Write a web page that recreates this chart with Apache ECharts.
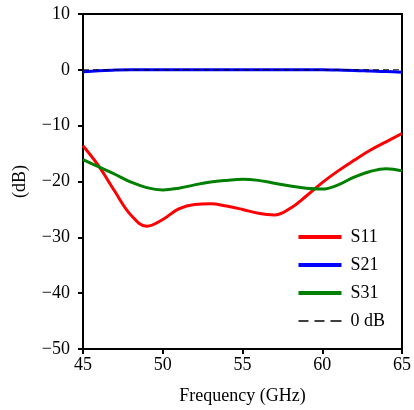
<!DOCTYPE html>
<html><head><meta charset="utf-8">
<script src="https://cdn.jsdelivr.net/npm/echarts@6/dist/echarts.min.js"></script>
<style>html,body{margin:0;padding:0;background:#fff}#c{width:414px;height:410px}</style>
</head><body><div id="c"></div>
<script>
const freq = [45,46,47,48,49,50,51,52,53,54,55,56,57,58,59,60,61,62,63,64,65];
const s11 = [-13.6,-17.3,-21.8,-26.0,-28.0,-26.8,-24.9,-24.1,-24.0,-24.4,-25.0,-25.7,-26.0,-24.8,-22.6,-20.2,-18.1,-16.2,-14.4,-12.9,-11.4];
const s21 = [-0.35,-0.15,-0.05,0,0,0,0,0,0,0,0,0,0,0,0,0,-0.05,-0.1,-0.2,-0.3,-0.45];
const s31 = [-16.1,-17.4,-18.7,-20.1,-21.1,-21.5,-21.2,-20.6,-20.1,-19.8,-19.6,-19.8,-20.3,-20.8,-21.2,-21.35,-20.6,-19.2,-18.2,-17.7,-18.1];
const zeroLine = [[45,0],[65,0]];
const xTicks = [45,50,55,60,65];
const yTicks = [-50,-40,-30,-20,-10,0,10];

const pair = (a) => freq.map((f,i)=>[f,a[i]]);
const font = 'Liberation Serif';
const fmt = v => v < 0 ? '\u2212' + Math.abs(v) : String(v);

const chart = echarts.init(document.getElementById('c'));
chart.setOption({
  animation:false,
  grid:{left:83,right:9,top:14,bottom:59,show:true,borderColor:'#000',borderWidth:2,backgroundColor:'transparent'},
  xAxis:{type:'value',min:xTicks[0],max:xTicks[xTicks.length-1],interval:5,
    name:'Frequency (GHz)',nameLocation:'middle',nameGap:38,
    nameTextStyle:{fontFamily:font,fontSize:18,color:'#000'},
    axisLine:{show:true,onZero:false,lineStyle:{color:'#000',width:2}},
    axisTick:{show:true,inside:false,length:5,lineStyle:{color:'#000',width:2}},
    axisLabel:{fontFamily:font,fontSize:18,color:'#000',margin:7},
    splitLine:{show:false}},
  yAxis:{type:'value',min:yTicks[0],max:yTicks[yTicks.length-1],interval:10,
    name:'(dB)',nameLocation:'middle',nameGap:54,nameRotate:90,
    nameTextStyle:{fontFamily:font,fontSize:18,color:'#000'},
    axisLine:{show:true,onZero:false,lineStyle:{color:'#000',width:2}},
    axisTick:{show:true,inside:false,length:5,lineStyle:{color:'#000',width:2}},
    axisLabel:{fontFamily:font,fontSize:18,color:'#000',margin:13,formatter:fmt},
    splitLine:{show:false}},
  legend:{right:24,top:223,orient:'vertical',itemWidth:43,itemHeight:4,itemGap:10,
    textStyle:{fontFamily:font,fontSize:18,color:'#000',padding:[0,0,0,4]},
    icon:'rect',
    data:[{name:'S11',icon:'rect'},{name:'S21',icon:'rect'},{name:'S31',icon:'rect'},
      {name:'0 dB',icon:'path://M0,0 L10,0 L10,1.6 L0,1.6 Z M16,0 L26,0 L26,1.6 L16,1.6 Z M32,0 L43,0 L43,1.6 L32,1.6 Z',itemStyle:{color:'#000'}}]},
  series:[
    {name:'S11',type:'line',data:pair(s11),smooth:0.4,showSymbol:false,lineStyle:{color:'#ff0000',width:3},itemStyle:{color:'#ff0000'}},
    {name:'S21',type:'line',data:pair(s21),smooth:0.4,showSymbol:false,lineStyle:{color:'#0000ff',width:3},itemStyle:{color:'#0000ff'}},
    {name:'S31',type:'line',data:pair(s31),smooth:0.4,showSymbol:false,lineStyle:{color:'#008000',width:3},itemStyle:{color:'#008000'}},
    {name:'0 dB',type:'line',data:zeroLine,showSymbol:false,lineStyle:{color:'#000',width:1,type:[6,4]},itemStyle:{color:'#000'}}
  ]
});
</script></body></html>
